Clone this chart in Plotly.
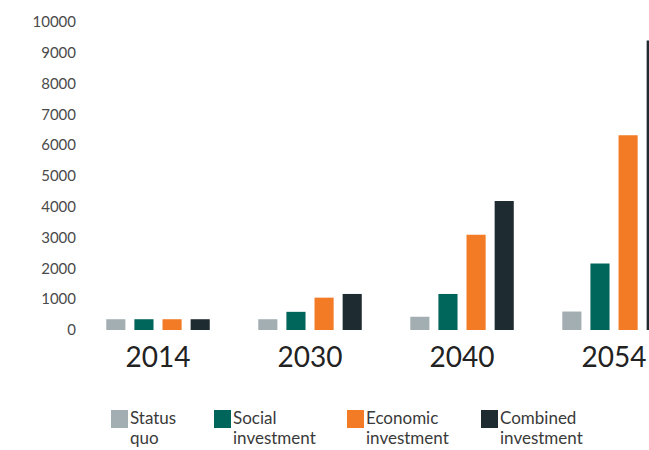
import plotly.graph_objects as go

years = ["2014", "2030", "2040", "2054"]
series_names = ["Status quo", "Social investment", "Economic investment", "Combined investment"]
legend_line1 = ["Status", "Social", "Economic", "Combined"]
legend_line2 = ["quo", "investment", "investment", "investment"]
status_quo = [350, 350, 430, 600]
social = [350, 590, 1170, 2160]
economic = [350, 1050, 3090, 6320]
combined = [350, 1170, 4190, 9400]
y_ticks = [0, 1000, 2000, 3000, 4000, 5000, 6000, 7000, 8000, 9000, 10000]
y_tick_text = [str(v) for v in y_ticks]

colors = ["#A3AEB2", "#00665C", "#F37B25", "#1E2B30"]
values = [status_quo, social, economic, combined]

W, H = 649, 450
L, R, T, B = 82, 0, 22, 120
pw, ph = W - L - R, H - T - B

fig = go.Figure()
for name, vals, c in zip(series_names, values, colors):
    fig.add_trace(go.Bar(x=years, y=vals, name=name, marker_color=c, marker_line_width=0,
                         showlegend=False))

# custom legend
leg_x = [111, 214, 347, 481]
def px2paper_x(px):
    return (px - L) / pw
def px2paper_y(py):
    return (H - B - py) / ph

leg_font = dict(family="Lato, sans-serif", size=17, color="#3a3a3a")
for lx, l1, l2, c in zip(leg_x, legend_line1, legend_line2, colors):
    fig.add_shape(type="rect", xref="paper", yref="paper",
                  x0=px2paper_x(lx), x1=px2paper_x(lx + 17),
                  y0=px2paper_y(428), y1=px2paper_y(410),
                  fillcolor=c, line_width=0)
    for txt, cy in ((l1, 418), (l2, 437)):
        fig.add_annotation(text=txt, xref="paper", yref="paper",
                           x=px2paper_x(lx + 18), y=px2paper_y(cy),
                           xanchor="left", yanchor="middle", align="left", showarrow=False,
                           borderpad=0, font=leg_font)

fig.update_layout(
    width=W, height=H,
    margin=dict(l=L, r=R, t=T, b=B),
    paper_bgcolor="white", plot_bgcolor="white",
    barmode="group", bargap=0.26, bargroupgap=0.32,
    font=dict(family="Lato, sans-serif"),
)
fig.update_xaxes(range=[-0.5, 3.23], showgrid=False, showline=False, ticks="",
                 tickfont=dict(size=28, color="#222222"), ticklabelstandoff=8)
fig.update_yaxes(range=[0, 10000], tickvals=y_ticks, ticktext=y_tick_text, showgrid=False,
                 zeroline=False, showline=False, ticks="",
                 tickfont=dict(size=15, color="#4a4a4a"), ticklabelstandoff=5)

fig.write_html("out.html")
